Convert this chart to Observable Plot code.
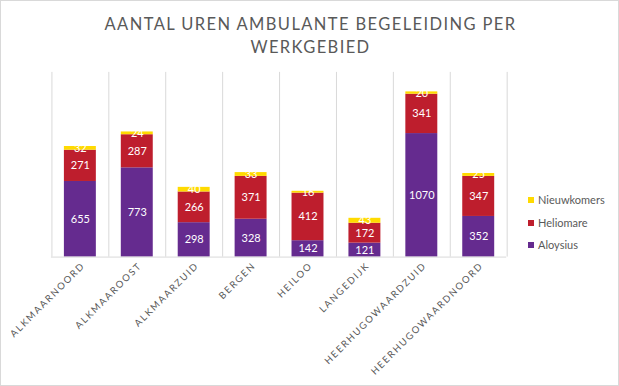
<!DOCTYPE html>
<html>
<head>
<meta charset="utf-8">
<script src="https://cdn.jsdelivr.net/npm/d3@7"></script>
<script src="https://cdn.jsdelivr.net/npm/@observablehq/plot@0.6"></script>
<style>
  html, body { margin: 0; padding: 0; background: #fff; }
  #wrap { position: relative; width: 619px; height: 386px; box-sizing: border-box; border: 1px solid #d9d9d9; overflow: hidden; font-family: Lato, "Open Sans", sans-serif; }
  #title { position: absolute; left: 0; top: 12px; width: 619px; text-align: center; font-size: 16.5px; letter-spacing: 1.4px; color: #595959; line-height: 23px; }
  #chart { position: absolute; left: -1px; top: -1px; }
  #legend { position: absolute; left: 527px; top: 192px; font-size: 11px; color: #595959; }
  #legend div { height: 22.5px; display: flex; align-items: flex-start; }
  #legend span.sw { display: inline-block; width: 6px; height: 6px; margin-right: 4px; margin-top: 4px; }
  #chart g[aria-label="x-axis tick label"] text { letter-spacing: 1.7px; }
</style>
</head>
<body>
<div id="wrap">
  <div id="title">AANTAL UREN AMBULANTE BEGELEIDING PER<br>WERKGEBIED</div>
  <div id="chart"></div>
  <div id="legend"></div>
</div>
<script>
const categories = ["Alkmaarnoord", "Alkmaaroost", "Alkmaarzuid", "Bergen", "Heiloo", "Langedijk", "Heerhugowaardzuid", "Heerhugowaardnoord"];
const seriesNames = ["Aloysius", "Heliomare", "Nieuwkomers"];
const aloysius    = [655, 773, 298, 328, 142, 121, 1070, 352];
const heliomare   = [271, 287, 266, 371, 412, 172, 341, 347];
const nieuwkomers = [32, 24, 40, 33, 16, 43, 20, 25];
const colors = ["#652B8F", "#BE1E2D", "#FFDA00"];

const valuesBySeries = [aloysius, heliomare, nieuwkomers];
const data = [];
seriesNames.forEach((s, si) => {
  categories.forEach((c, ci) => data.push({cat: c, series: s, value: valuesBySeries[si][ci]}));
});

const chart = Plot.plot({
  width: 619,
  height: 386,
  marginLeft: 51,
  marginRight: 112,
  marginTop: 72,
  marginBottom: 129,
  style: {fontFamily: "Lato, 'Open Sans', sans-serif", background: "transparent"},
  x: {domain: categories, paddingInner: 0.44, paddingOuter: 0.22, axis: null},
  y: {domain: [0, 1600], axis: null},
  color: {domain: seriesNames, range: colors},
  marks: [
    Plot.ruleX(categories, {x: d => d, dx: -28.5, y1: 0, y2: 1600, stroke: "#d9d9d9", strokeWidth: 1}),
    Plot.ruleX([categories[categories.length - 1]], {x: d => d, dx: 28.5, y1: 0, y2: 1600, stroke: "#d9d9d9", strokeWidth: 1}),
    Plot.barY(data, {x: "cat", y: "value", fill: "series", order: seriesNames}),
    Plot.ruleY([0], {stroke: "#d9d9d9", strokeWidth: 1}),
    Plot.text(data, Plot.stackY({x: "cat", y: "value", z: "series", order: seriesNames, text: d => String(d.value), fill: "white", fontSize: 11})),
    Plot.axisX({
      tickSize: 0,
      tickPadding: 7,
      tickRotate: -45,
      textAnchor: "end",
      tickFormat: d => d.toUpperCase(),
      fontSize: 9.5,
      dx: 3,
      fill: "#595959",
      label: null
    })
  ]
});
document.getElementById("chart").appendChild(chart);

const legend = document.getElementById("legend");
[...seriesNames].reverse().forEach(s => {
  const row = document.createElement("div");
  const sw = document.createElement("span");
  sw.className = "sw";
  sw.style.background = colors[seriesNames.indexOf(s)];
  row.appendChild(sw);
  row.appendChild(document.createTextNode(s));
  legend.appendChild(row);
});
</script>
</body>
</html>
